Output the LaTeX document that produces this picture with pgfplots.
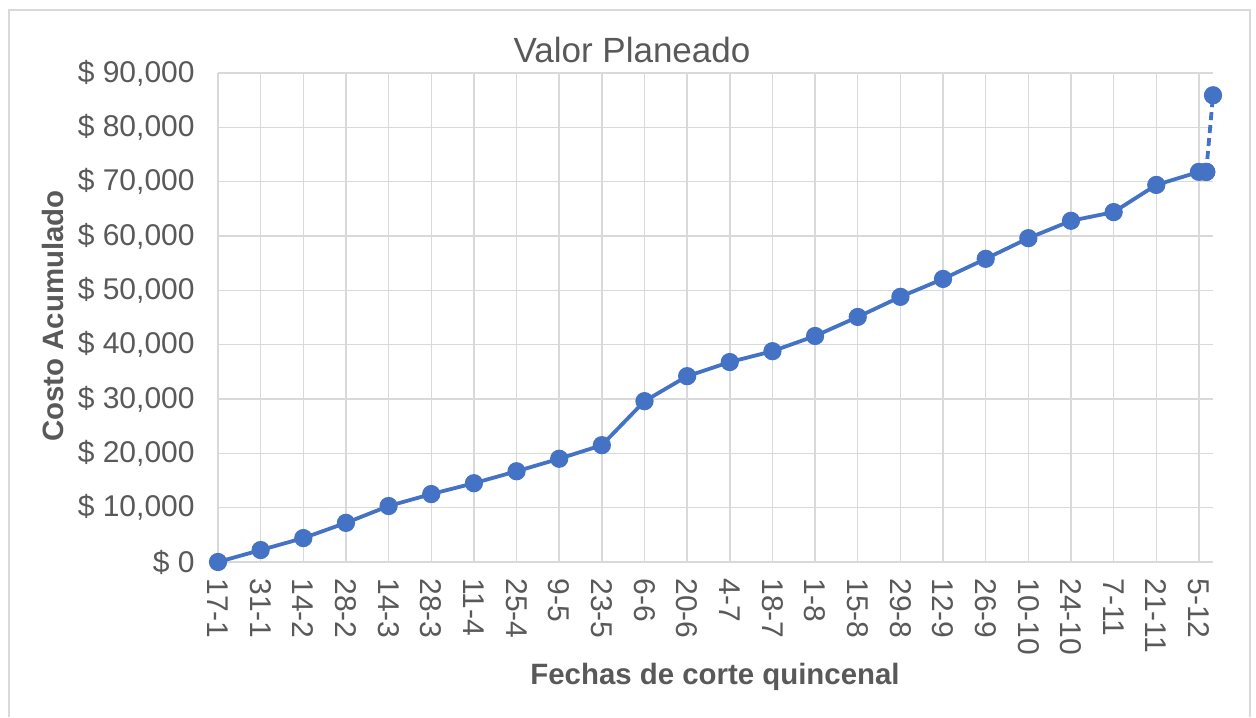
\documentclass[border=0pt]{standalone}
\usepackage{fontspec}
\setmainfont{Liberation Sans}
\usepackage{pgfplots}
\pgfplotsset{compat=1.18}

\definecolor{serie}{HTML}{4472C4}
\definecolor{rejilla}{HTML}{D9D9D9}
\definecolor{texto}{HTML}{595959}

\begin{document}
\begin{tikzpicture}[x=0.5pt,y=0.5pt]
% lienzo 1256 x 717 px, 1 px = 0.5pt
\path (0,0) rectangle (1256,717);
\draw[rejilla, line width=0.75pt] (9,0) -- (9,707) -- (1250,707) -- (1250,0);

\begin{axis}[
    at={(109pt,77.5pt)}, anchor=south west,
    scale only axis,
    width=497.5pt, height=244.5pt,
    xmin=0, xmax=23.33,
    ymin=0, ymax=90000,
    xtick={0,...,23},
    xticklabels={17-1,31-1,14-2,28-2,14-3,28-3,11-4,25-4,9-5,23-5,6-6,20-6,4-7,18-7,1-8,15-8,29-8,12-9,26-9,10-10,24-10,7-11,21-11,5-12},
    ytick={0,10000,...,90000},
    scaled y ticks=false,
    yticklabel={\$ \pgfmathprintnumber{\tick}},
    /pgf/number format/.cd, fixed, precision=0, 1000 sep={,}, assume math mode=true,
    /pgfplots/.cd,
    grid=major,
    major grid style={rejilla, line width=0.75pt},
    axis line style={draw=none},
    major tick length=0pt,
    xticklabel style={rotate=-90, anchor=west, inner xsep=0pt, xshift=0pt, font=\fontsize{15}{18}\selectfont, text=texto},
    yticklabel style={anchor=east, inner xsep=0pt, xshift=-11.5pt, font=\fontsize{15}{18}\selectfont, text=texto},
    clip=false,
]
\pgfplotsset{xticklabel style={xshift=8pt}}
\addplot[serie, line width=1.9pt, mark=*, mark size=3.6pt] coordinates {
(0,0) (1,2200) (2,4400) (3,7200) (4,10300) (5,12500)
(6,14500) (7,16700) (8,19000) (9,21500) (10,29600) (11,34200)
(12,36800) (13,38800) (14,41600) (15,45100) (16,48800) (17,52100)
(18,55800) (19,59600) (20,62800) (21,64400) (22,69400) (23,71800)
(23.17,71800)
};
\addplot[serie, line width=1.9pt, dash pattern=on 4pt off 2.5pt, mark=*, mark size=3.6pt, mark options={solid}] coordinates {
(23.17,71800) (23.33,85900)
};
\end{axis}

\node[text=texto, font=\fontsize{17.5}{21}\selectfont] at (632,667) {Valor Planeado};
\node[text=texto, font=\fontsize{14.7}{18}\selectfont\bfseries] at (715,40) {Fechas de corte quincenal};
\node[text=texto, font=\fontsize{14.7}{18}\selectfont\bfseries, rotate=90] at (53,401) {Costo Acumulado};
\end{tikzpicture}
\end{document}
